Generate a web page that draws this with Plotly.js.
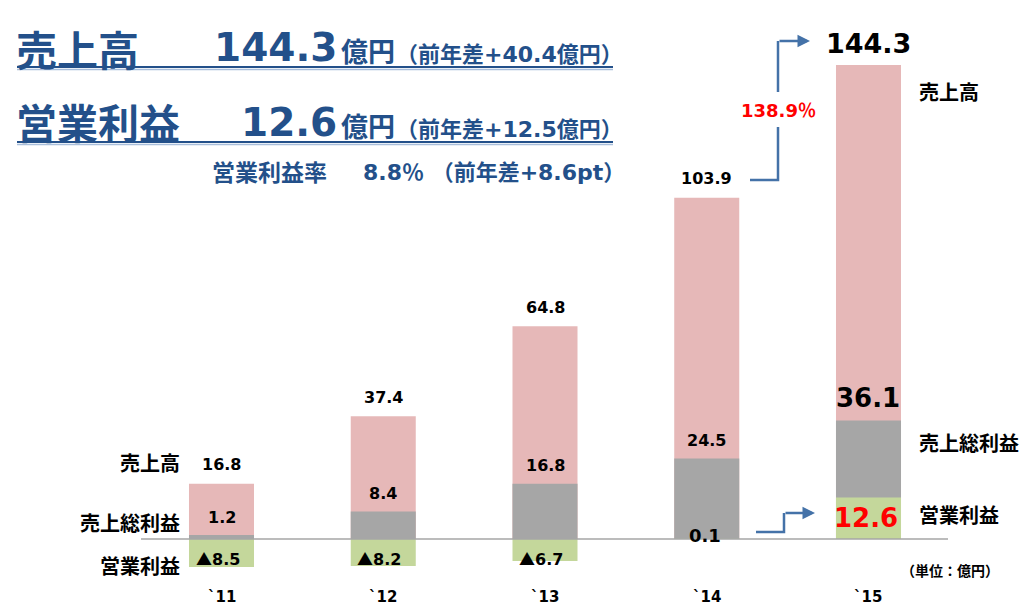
<!DOCTYPE html>
<html><head><meta charset="utf-8">
<script src="https://cdn.plot.ly/plotly-3.0.1.min.js"></script>
<style>html,body{margin:0;padding:0;background:#fff}</style>
</head><body><div id="chart" style="width:1024px;height:607px"></div>
<script>
const years = ["`11", "`12", "`13", "`14", "`15"];
const sales = [16.8, 37.4, 64.8, 103.9, 144.3];
const gross = [1.2, 8.4, 16.8, 24.5, 36.1];
const opProfit = [-8.5, -8.2, -6.7, 0.1, 12.6];
const seriesNames = ["売上高", "売上総利益", "営業利益"];
const headline1 = {label: "売上高", value: "144.3", unit: "億円", diff: "（前年差+40.4億円）"};
const headline2 = {label: "営業利益", value: "12.6", unit: "億円", diff: "（前年差+12.5億円）"};
const headline3 = {label: "営業利益率", value: "8.8％ （前年差+8.6pt）"};
const growthText = "138.9％";
const unitText = "（単位：億円）";

const W = 1024, H = 607;
const px = x => x / W, py = y => 1 - y / H;
const NUM = "DejaVu Sans, Noto Sans CJK JP", JP = "Noto Sans CJK JP";
const BLUE = "#23508A", ARROW = "#4472A8";
const xs = years.map((_, i) => i);

const traces = [
  {type: "bar", x: xs, y: sales, width: 0.402, marker: {color: "#E6B8B8"}, name: seriesNames[0], hoverinfo: "skip"},
  {type: "bar", x: xs, y: gross, width: 0.402, marker: {color: "#A6A6A6"}, name: seriesNames[1], hoverinfo: "skip"},
  {type: "bar", x: xs, y: opProfit, width: 0.402, marker: {color: "#C4D79B"}, name: seriesNames[2], hoverinfo: "skip"}
];

const ann = [];
function T(o) { ann.push(Object.assign({showarrow: false, xref: "paper", yref: "paper"}, o)); }

// value labels
xs.forEach(i => {
  const last = i === xs.length - 1;
  ann.push({x: i, y: sales[i], xref: "x", yref: "y", showarrow: false, text: sales[i].toFixed(1),
    yshift: last ? 21 : 19, yanchor: "middle",
    font: {family: NUM, size: last ? 27 : 16, weight: 700, color: "#000"}});
  ann.push({x: i, y: gross[i], xref: "x", yref: "y", showarrow: false, text: gross[i].toFixed(1),
    yshift: last ? 22 : 18, yanchor: "middle",
    font: {family: NUM, size: last ? 26 : 16, weight: 700, color: "#000"}});
  const v = opProfit[i];
  const t = v < 0 ? "<span style=\"font-family:'Noto Sans CJK JP'\">▲</span>" + Math.abs(v).toFixed(1) : v.toFixed(1);
  ann.push({x: i, y: v < 0 ? 0 : (last ? v / 2 : 0), xref: "x", yref: "y", showarrow: false, text: t,
    yshift: v < 0 ? -19 : (last ? 0 : 4), yanchor: "middle", xshift: v < 0 ? -4 : -2,
    font: {family: NUM, size: last ? 26 : (v < 0 ? 16 : 18), weight: 700, color: last ? "#FF0000" : "#000"}});
  ann.push({x: i, y: 0, xref: "x", yref: "y", showarrow: false, text: years[i], yshift: -58, yanchor: "middle",
    font: {family: NUM, size: 15, weight: 700, color: "#000"}});
});

// left row labels
const lab = {family: JP, size: 20, weight: 700, color: "#000"};
T({x: px(182), y: py(463), xanchor: "right", yanchor: "middle", text: seriesNames[0], font: lab});
T({x: px(182), y: py(522), xanchor: "right", yanchor: "middle", text: seriesNames[1], font: lab});
T({x: px(182), y: py(565), xanchor: "right", yanchor: "middle", text: seriesNames[2], font: lab});
// right row labels
T({x: px(917), y: py(92), xanchor: "left", yanchor: "middle", text: seriesNames[0], font: lab});
T({x: px(917), y: py(442), xanchor: "left", yanchor: "middle", text: seriesNames[1], font: lab});
T({x: px(917), y: py(514), xanchor: "left", yanchor: "middle", text: seriesNames[2], font: lab});
T({x: px(899), y: py(570), xanchor: "left", yanchor: "middle", text: unitText, font: {family: JP, size: 14, weight: 700, color: "#000"}});

// headline texts
T({x: px(14), y: py(48), xanchor: "left", yanchor: "middle", text: headline1.label, font: {family: JP, size: 41, weight: 700, color: BLUE}});
T({x: px(339), y: py(48), xanchor: "right", yanchor: "middle", text: headline1.value, font: {family: NUM, size: 39, weight: 700, color: BLUE}});
T({x: px(339), y: py(50), xanchor: "left", yanchor: "middle", text: headline1.unit, font: {family: JP, size: 27, weight: 700, color: BLUE}});
T({x: px(394), y: py(54), xanchor: "left", yanchor: "middle", text: headline1.diff, font: {family: NUM, size: 22, weight: 700, color: BLUE}});

T({x: px(14), y: py(121), xanchor: "left", yanchor: "middle", text: headline2.label, font: {family: JP, size: 41, weight: 700, color: BLUE}});
T({x: px(339), y: py(123), xanchor: "right", yanchor: "middle", text: headline2.value, font: {family: NUM, size: 39, weight: 700, color: BLUE}});
T({x: px(339), y: py(125), xanchor: "left", yanchor: "middle", text: headline2.unit, font: {family: JP, size: 27, weight: 700, color: BLUE}});
T({x: px(394), y: py(129), xanchor: "left", yanchor: "middle", text: headline2.diff, font: {family: NUM, size: 22, weight: 700, color: BLUE}});

T({x: px(210), y: py(171), xanchor: "left", yanchor: "middle", text: headline3.label, font: {family: JP, size: 23, weight: 700, color: BLUE}});
T({x: px(361), y: py(172), xanchor: "left", yanchor: "middle", text: headline3.value, font: {family: NUM, size: 22, weight: 700, color: BLUE}});

// growth
T({x: px(778), y: py(110), xanchor: "center", yanchor: "middle", text: growthText, font: {family: NUM, size: 18, weight: 700, color: "#FF0000"}});

// arrow heads
ann.push({x: px(810), y: py(41), xref: "paper", yref: "paper", ax: -32, ay: 0, text: "", showarrow: true,
  arrowhead: 2, arrowsize: 1, arrowwidth: 2.5, arrowcolor: ARROW});
ann.push({x: px(815), y: py(513), xref: "paper", yref: "paper", ax: -31, ay: 0, text: "", showarrow: true,
  arrowhead: 2, arrowsize: 1, arrowwidth: 2.5, arrowcolor: ARROW});

function path(pts) { return "M " + pts.map(p => px(p[0]) + "," + py(p[1])).join(" L "); }
const shapes = [
  {type: "line", xref: "paper", yref: "y", x0: px(141), x1: px(948), y0: 0, y1: 0, line: {color: "#A6A6A6", width: 1.5}, layer: "above"},
  {type: "line", xref: "paper", yref: "paper", x0: px(17), x1: px(613), y0: py(67), y1: py(67), line: {color: BLUE, width: 2}},
  {type: "line", xref: "paper", yref: "paper", x0: px(17), x1: px(613), y0: py(69.5), y1: py(69.5), line: {color: "#A9BEDB", width: 1.5}},
  {type: "line", xref: "paper", yref: "paper", x0: px(17), x1: px(613), y0: py(142), y1: py(142), line: {color: BLUE, width: 2}},
  {type: "line", xref: "paper", yref: "paper", x0: px(17), x1: px(613), y0: py(144.5), y1: py(144.5), line: {color: "#A9BEDB", width: 1.5}},
  {type: "path", xref: "paper", yref: "paper", path: path([[750, 180], [778, 180], [778, 127]]), line: {color: ARROW, width: 2.5}},
  {type: "path", xref: "paper", yref: "paper", path: path([[778, 92], [778, 41]]), line: {color: ARROW, width: 2.5}},
  {type: "path", xref: "paper", yref: "paper", path: path([[756, 532], [784, 532], [784, 513]]), line: {color: ARROW, width: 2.5}}
];

const layout = {
  width: W, height: H, margin: {l: 0, r: 0, t: 0, b: 0},
  paper_bgcolor: "#fff", plot_bgcolor: "#fff",
  barmode: "overlay", showlegend: false,
  xaxis: {range: [-1.3694, 4.9614], visible: false, fixedrange: true},
  yaxis: {range: [-20.70, 164.08], visible: false, fixedrange: true},
  annotations: ann, shapes: shapes
};
Plotly.newPlot("chart", traces, layout, {staticPlot: true});
</script></body></html>
